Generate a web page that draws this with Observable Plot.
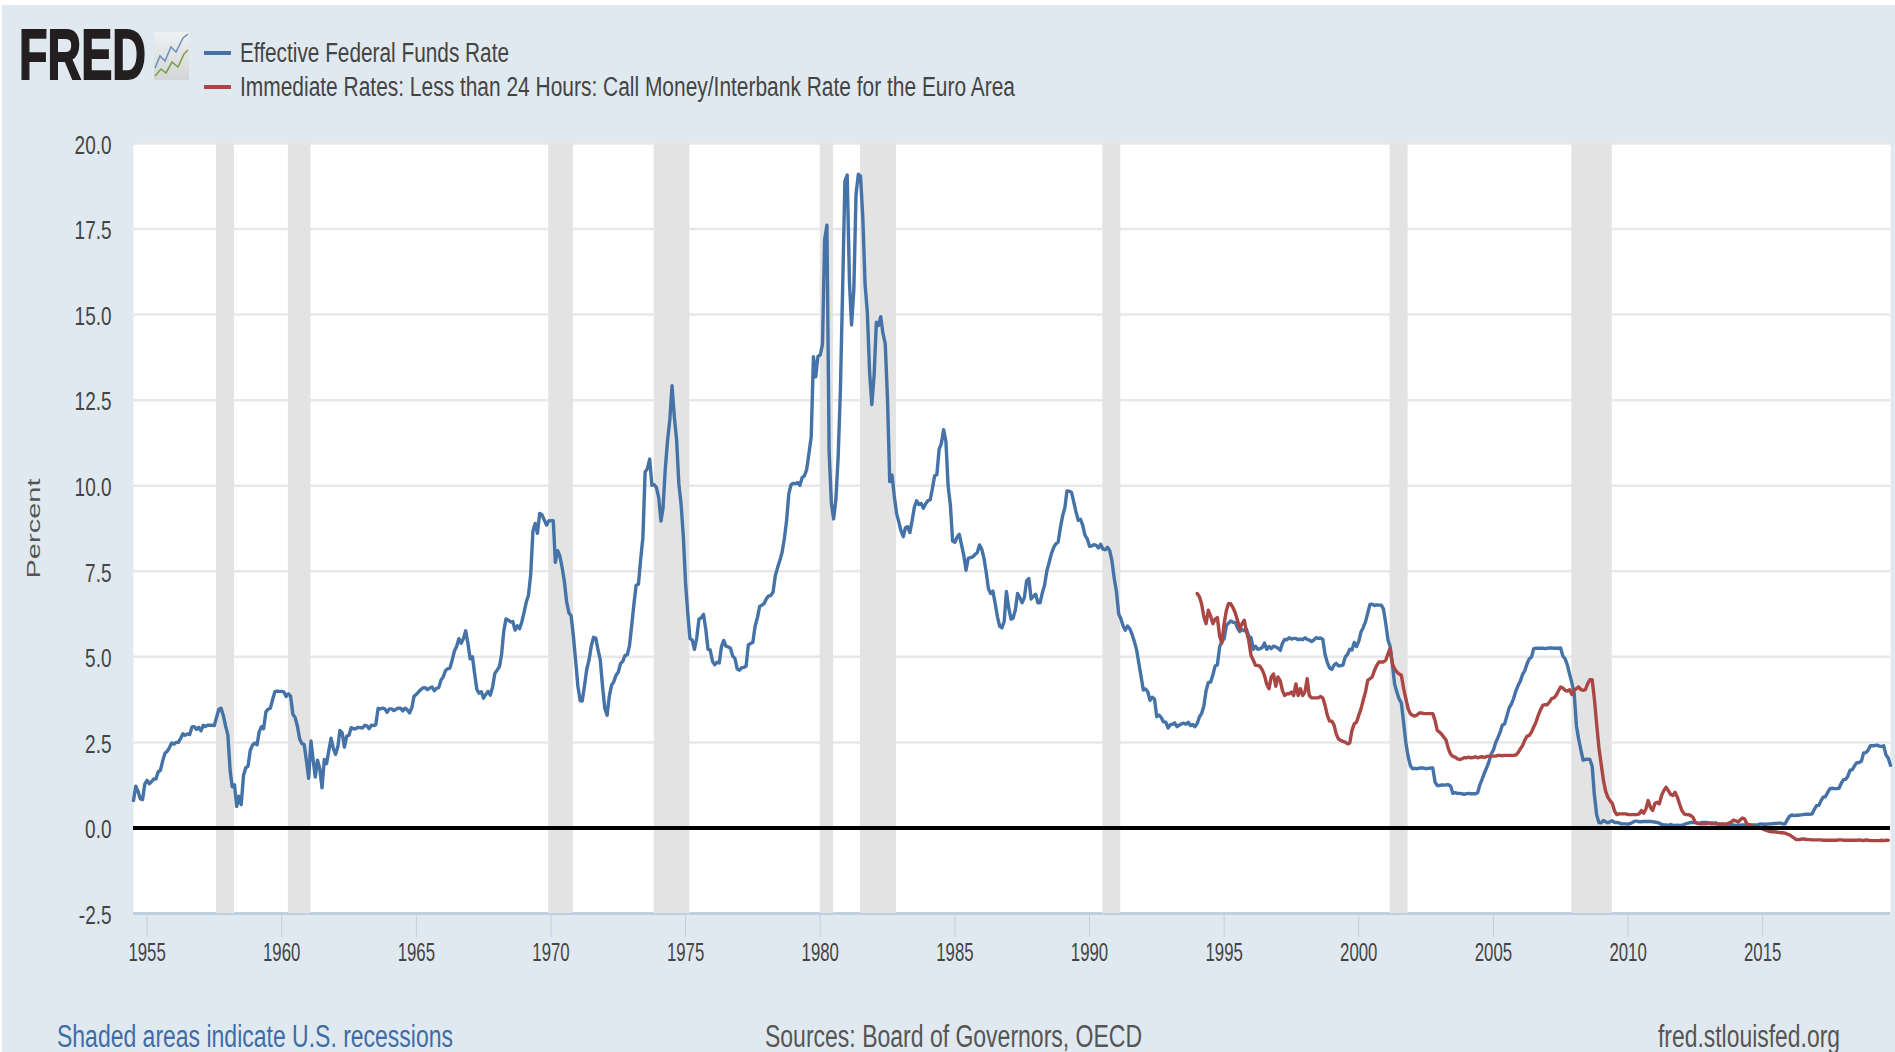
<!DOCTYPE html>
<html>
<head>
<meta charset="utf-8">
<title>FRED: Effective Federal Funds Rate and Euro Area Call Money Rate</title>
<script src="https://cdn.jsdelivr.net/npm/d3@7"></script>
<script src="https://cdn.jsdelivr.net/npm/@observablehq/plot@0.6"></script>
<style>
  html, body { margin: 0; padding: 0; background: #fff; overflow: hidden; }
  #page { position: relative; width: 1895px; height: 1052px; overflow: hidden; background: #fff; font-family: "Liberation Sans", Arial, sans-serif; }
  #panel { position: absolute; left: 2px; top: 5px; right: 0; bottom: 0; background: #e1e9f0; }
  #chart { position: absolute; left: 0; top: 0; }
  #chart svg { display: block; background: transparent; font-family: "Liberation Sans", Arial, sans-serif; }
  .t { position: absolute; white-space: nowrap; transform-origin: left center; line-height: 1; color: #444; }
  .swatch { position: absolute; left: 204px; width: 27px; height: 4px; }
  #icon { position: absolute; left: 154px; top: 32px; }
</style>
</head>
<body>
<div id="page">
  <div id="panel"></div>
  <div id="chart"></div>
  <span class="t" data-w="127" style="left:19px;top:55px;font-size:70px;font-weight:bold;color:#231f20;-webkit-text-stroke:2px #231f20">FRED</span>
  <svg id="icon" width="35" height="48" viewBox="0 0 35 48">
    <defs><linearGradient id="g" x1="0" y1="0" x2="0" y2="1"><stop offset="0" stop-color="#eef1f3"/><stop offset="1" stop-color="#d3d5d6"/></linearGradient></defs>
    <rect width="35" height="48" fill="url(#g)"/>
    <polyline points="1,36 6,24 11,29 17,15 22,20 29,6 34,2" fill="none" stroke="#6f93b8" stroke-width="1.6"/>
    <polyline points="1,44 7,37 12,41 18,30 24,35 30,22 34,18" fill="none" stroke="#7f9f4a" stroke-width="1.6"/>
  </svg>
  <div class="swatch" style="top:51px;background:#4572a7"></div>
  <div class="swatch" style="top:85px;background:#aa4643"></div>
  <span class="t" data-w="269" style="left:240px;top:53px;font-size:27px">Effective Federal Funds Rate</span>
  <span class="t" data-w="775" style="left:240px;top:87px;font-size:27px">Immediate Rates: Less than 24 Hours: Call Money/Interbank Rate for the Euro Area</span>
  <span class="t" data-w="396" style="left:57px;top:1036px;font-size:31px;color:#3f6ca6">Shaded areas indicate U.S. recessions</span>
  <span class="t" data-w="377" style="left:765px;top:1036px;font-size:31px;color:#555">Sources: Board of Governors, OECD</span>
  <span class="t" data-w="182" style="left:1658px;top:1036px;font-size:31px;color:#555">fred.stlouisfed.org</span>
</div>
<script>
// Effective Federal Funds Rate, monthly from July 1954 to October 2019
const fedStart = "1954-07-01";
const fedValues = [
  0.80,1.22,1.07,0.85,0.83,1.28,
  1.39,1.29,1.35,1.43,1.43,1.64,1.68,1.96,2.18,2.24,2.35,2.48,
  2.45,2.50,2.50,2.62,2.75,2.71,2.75,2.73,2.95,2.96,2.88,2.94,
  2.84,3.00,2.96,3.00,3.00,3.00,2.99,3.24,3.47,3.50,3.28,2.98,
  2.72,1.67,1.20,1.26,0.63,0.93,0.68,1.53,1.76,1.80,2.27,2.42,
  2.48,2.43,2.80,2.96,2.90,3.39,3.47,3.50,3.76,3.98,4.00,3.99,
  3.99,3.97,3.84,3.92,3.85,3.32,3.23,2.98,2.60,2.47,2.44,1.98,
  1.45,2.54,2.02,1.49,1.98,1.73,1.17,2.00,1.88,2.26,2.62,2.33,
  2.15,2.37,2.85,2.78,2.36,2.68,2.71,2.93,2.90,2.90,2.94,2.93,
  2.92,3.00,2.98,2.90,3.00,2.99,3.02,3.49,3.48,3.50,3.48,3.38,
  3.48,3.48,3.43,3.47,3.50,3.50,3.42,3.50,3.45,3.36,3.52,3.85,
  3.90,3.98,4.04,4.09,4.10,4.04,4.09,4.12,4.01,4.08,4.10,4.32,
  4.42,4.60,4.65,4.67,4.90,5.17,5.30,5.53,5.40,5.53,5.76,5.40,
  4.94,5.00,4.53,4.05,3.94,3.98,3.79,3.90,3.99,3.88,4.12,4.51,
  4.61,4.71,5.05,5.76,6.11,6.07,6.02,6.03,5.78,5.91,5.82,6.02,
  6.30,6.61,6.79,7.41,8.67,8.90,8.61,9.19,9.15,9.00,8.85,8.97,
  8.98,8.98,7.76,8.10,7.95,7.61,7.21,6.61,6.29,6.20,5.60,4.90,
  4.14,3.72,3.71,4.16,4.63,4.91,5.31,5.57,5.55,5.20,4.91,4.14,
  3.50,3.29,3.83,4.17,4.27,4.46,4.55,4.80,4.87,5.04,5.06,5.33,
  5.94,6.58,7.09,7.12,7.84,8.49,10.40,10.50,10.78,10.01,10.03,9.95,
  9.65,8.97,9.35,10.51,11.31,11.93,12.92,12.01,11.34,10.06,9.45,8.53,
  7.13,6.24,5.54,5.49,5.22,5.55,6.10,6.14,6.24,5.82,5.22,5.20,
  4.87,4.77,4.84,4.82,5.29,5.48,5.31,5.29,5.25,5.02,4.95,4.65,
  4.61,4.68,4.69,4.73,5.35,5.39,5.42,5.90,6.14,6.47,6.51,6.56,
  6.70,6.78,6.79,6.89,7.36,7.60,7.81,8.04,8.45,8.96,9.76,10.03,
  10.07,10.06,10.09,10.01,10.24,10.29,10.47,10.94,11.43,13.77,13.18,13.78,
  13.82,14.13,17.19,17.61,10.98,9.47,9.03,9.61,10.87,12.81,15.85,18.90,
  19.08,15.93,14.70,15.72,18.52,19.10,19.04,17.82,15.87,15.08,13.31,12.37,
  13.22,14.78,14.68,14.94,14.45,14.15,12.59,10.12,10.31,9.71,9.20,8.95,
  8.68,8.51,8.77,8.80,8.63,8.98,9.37,9.56,9.45,9.48,9.34,9.47,
  9.56,9.59,9.91,10.29,10.32,11.06,11.23,11.64,11.30,9.99,9.43,8.38,
  8.35,8.50,8.58,8.27,7.97,7.53,7.88,7.90,7.92,7.99,8.05,8.27,
  8.14,7.86,7.48,6.99,6.85,6.92,6.56,6.17,5.89,5.85,6.04,6.91,
  6.43,6.10,6.13,6.37,6.85,6.73,6.58,6.73,7.22,7.29,6.69,6.77,
  6.83,6.58,6.58,6.87,7.09,7.51,7.75,8.01,8.19,8.30,8.35,8.76,
  9.12,9.36,9.85,9.84,9.81,9.53,9.24,8.99,9.02,8.84,8.55,8.45,
  8.23,8.24,8.28,8.26,8.18,8.29,8.15,8.13,8.20,8.11,7.81,7.31,
  6.91,6.25,6.12,5.91,5.78,5.90,5.82,5.66,5.45,5.21,4.81,4.43,
  4.03,4.06,3.98,3.73,3.82,3.76,3.25,3.30,3.22,3.10,3.09,2.92,
  3.02,3.03,3.07,2.96,3.00,3.04,3.06,3.03,3.09,2.99,3.02,2.96,
  3.05,3.25,3.34,3.56,4.01,4.25,4.26,4.47,4.73,4.76,5.29,5.45,
  5.53,5.92,5.98,6.05,6.01,6.00,5.85,5.74,5.80,5.76,5.80,5.60,
  5.56,5.22,5.31,5.22,5.24,5.27,5.40,5.22,5.30,5.24,5.31,5.29,
  5.25,5.19,5.39,5.51,5.50,5.56,5.52,5.54,5.54,5.50,5.52,5.50,
  5.56,5.51,5.49,5.45,5.49,5.56,5.54,5.55,5.51,5.07,4.83,4.68,
  4.63,4.76,4.81,4.74,4.74,4.76,4.99,5.07,5.22,5.20,5.42,5.30,
  5.45,5.73,5.85,6.02,6.27,6.53,6.54,6.50,6.52,6.51,6.51,6.40,
  5.98,5.49,5.31,4.80,4.21,3.97,3.77,3.65,3.07,2.49,2.09,1.82,
  1.73,1.74,1.73,1.75,1.75,1.75,1.73,1.74,1.75,1.75,1.34,1.24,
  1.24,1.26,1.25,1.26,1.26,1.22,1.01,1.03,1.01,1.01,1.00,0.98,
  1.00,1.01,1.00,1.00,1.00,1.03,1.26,1.43,1.61,1.76,1.93,2.16,
  2.28,2.50,2.63,2.79,3.00,3.04,3.26,3.50,3.62,3.78,4.00,4.16,
  4.29,4.49,4.59,4.79,4.94,4.99,5.24,5.25,5.25,5.25,5.25,5.24,
  5.25,5.26,5.26,5.25,5.25,5.25,5.26,5.02,4.94,4.76,4.49,4.24,
  3.94,2.98,2.61,2.28,1.98,2.00,2.01,2.00,1.81,0.97,0.39,0.16,
  0.15,0.22,0.18,0.15,0.18,0.21,0.16,0.16,0.15,0.12,0.12,0.12,
  0.11,0.13,0.16,0.20,0.20,0.18,0.18,0.19,0.19,0.19,0.19,0.18,
  0.17,0.16,0.14,0.10,0.09,0.09,0.07,0.10,0.08,0.07,0.08,0.07,
  0.08,0.10,0.13,0.14,0.16,0.16,0.16,0.13,0.14,0.16,0.16,0.16,
  0.14,0.15,0.14,0.15,0.11,0.09,0.09,0.08,0.08,0.09,0.08,0.09,
  0.07,0.07,0.08,0.09,0.09,0.10,0.09,0.09,0.09,0.09,0.09,0.12,
  0.11,0.11,0.11,0.12,0.12,0.13,0.13,0.14,0.14,0.12,0.12,0.24,
  0.34,0.38,0.36,0.37,0.37,0.38,0.39,0.40,0.40,0.40,0.41,0.54,
  0.65,0.66,0.79,0.90,0.91,1.04,1.15,1.16,1.15,1.15,1.16,1.30,
  1.41,1.42,1.51,1.69,1.70,1.82,1.91,1.91,1.95,2.19,2.20,2.27,
  2.40,2.40,2.41,2.42,2.39,2.38,2.40,2.13,2.04,1.83
];

// Call money / interbank rate for the euro area, monthly from January 1994
const euroStart = "1994-01-01";
const euroValues = [
  6.85,6.75,6.55,6.17,5.97,6.36,6.20,5.97,6.10,6.15,5.60,5.40,
  5.97,6.36,6.55,6.55,6.44,6.28,6.07,5.82,5.97,6.07,5.73,5.48,
  5.04,4.90,4.75,4.75,4.72,4.62,4.46,4.20,4.07,4.41,4.50,4.14,
  4.41,4.30,4.02,3.87,3.92,3.92,3.97,3.87,4.21,3.87,4.07,3.87,
  3.97,4.36,3.87,3.80,3.80,3.80,3.80,3.84,3.80,3.58,3.29,3.12,
  3.12,3.00,2.75,2.60,2.56,2.53,2.51,2.46,2.48,2.85,3.04,3.09,
  3.29,3.48,3.73,3.97,4.31,4.36,4.41,4.60,4.75,4.85,4.85,4.85,
  4.90,5.09,5.24,4.80,4.65,4.56,4.50,4.46,4.07,3.78,3.48,3.34,
  3.29,3.27,3.30,3.36,3.36,3.34,3.34,3.34,3.34,3.34,3.14,2.85,
  2.80,2.73,2.65,2.56,2.31,2.15,2.09,2.07,2.02,2.00,2.02,2.05,
  2.05,2.07,2.05,2.06,2.08,2.05,2.07,2.08,2.06,2.09,2.10,2.10,
  2.10,2.10,2.12,2.12,2.11,2.12,2.12,2.12,2.12,2.12,2.13,2.20,
  2.31,2.41,2.56,2.68,2.70,2.80,2.95,3.09,3.29,3.45,3.58,3.60,
  3.60,3.68,3.78,3.80,3.87,4.00,4.12,4.09,4.02,4.00,4.04,3.90,
  4.02,4.07,4.12,4.04,4.02,4.04,4.21,4.33,4.33,3.78,3.04,2.36,
  1.87,1.39,1.09,0.90,0.80,0.72,0.50,0.39,0.41,0.41,0.41,0.41,
  0.39,0.39,0.39,0.39,0.39,0.41,0.51,0.43,0.56,0.80,0.60,0.51,
  0.72,0.75,0.70,0.95,1.09,1.19,1.09,0.98,0.95,1.04,0.90,0.70,
  0.51,0.41,0.39,0.39,0.36,0.31,0.16,0.14,0.12,0.12,0.12,0.12,
  0.14,0.12,0.12,0.12,0.12,0.12,0.12,0.12,0.12,0.14,0.17,0.23,
  0.21,0.17,0.23,0.29,0.26,0.12,0.10,0.07,0.04,0.04,0.02,0.00,
  -0.03,-0.06,-0.08,-0.10,-0.11,-0.11,-0.12,-0.13,-0.14,-0.14,-0.15,-0.18,
  -0.20,-0.25,-0.29,-0.34,-0.34,-0.33,-0.32,-0.33,-0.34,-0.34,-0.35,-0.35,
  -0.35,-0.35,-0.35,-0.36,-0.36,-0.36,-0.36,-0.36,-0.36,-0.36,-0.35,-0.35,
  -0.36,-0.36,-0.36,-0.36,-0.36,-0.36,-0.36,-0.35,-0.36,-0.37,-0.35,-0.36,
  -0.37,-0.37,-0.37,-0.37,-0.37,-0.36,-0.37,-0.36,-0.36
];

// U.S. recessions (start, end)
const recessionStarts = ["1957-08-01","1960-04-01","1969-12-01","1973-11-01","1980-01-01","1981-07-01","1990-07-01","2001-03-01","2007-12-01"];
const recessionEnds   = ["1958-04-01","1961-02-01","1970-11-01","1975-03-01","1980-07-01","1982-11-01","1991-03-01","2001-11-01","2009-06-01"];

const yTicks = [-2.5,0,2.5,5,7.5,10,12.5,15,17.5,20];
const xTickYears = [1955,1960,1965,1970,1975,1980,1985,1990,1995,2000,2005,2010,2015];

const parse = d3.utcParse("%Y-%m-%d");
const series = (start, vals) => vals.map((v, i) => ({date: d3.utcMonth.offset(parse(start), i), value: v}));
const fed = series(fedStart, fedValues);
const euro = series(euroStart, euroValues);
const recessions = recessionStarts.map((s, i) => ({start: parse(s), end: parse(recessionEnds[i])}));
const xTicks = xTickYears.map(y => new Date(Date.UTC(y, 0, 1)));

const plot = Plot.plot({
  width: 1895,
  height: 1052,
  marginLeft: 133,
  marginRight: 5,
  marginTop: 143,
  marginBottom: 139,
  style: {background: "transparent", overflow: "visible"},
  x: {type: "utc", domain: [parse(fedStart), fed[fed.length - 1].date]},
  y: {domain: [-2.5, 20]},
  marks: [
    Plot.frame({fill: "#fff", stroke: null}),
    Plot.ruleY(yTicks.slice(2), {stroke: "#e8e8e8", strokeWidth: 2.5}),
    Plot.ruleY([-2.5], {stroke: "#c0d0e0", strokeWidth: 3}),
    Plot.rectY(recessions, {x1: "start", x2: "end", y1: -2.5, y2: 20, fill: "#e3e3e3"}),
    Plot.axisX({
      ticks: xTicks, tickFormat: d => String(d.getUTCFullYear()),
      tickSize: 24, tickPadding: 6, fontSize: 25, stroke: "#c0d0e0", fill: "#444", label: null
    }),
    Plot.axisY({
      ticks: yTicks, tickFormat: d => d.toFixed(1), tickSize: 0, tickPadding: 22, dy: 2,
      fontSize: 26, fill: "#444", label: "Percent", labelAnchor: "center", labelArrow: "none", labelOffset: 107
    }),
    Plot.line(fed, {x: "date", y: "value", stroke: "#4572a7", strokeWidth: 3.4, strokeLinejoin: "round"}),
    Plot.line(euro, {x: "date", y: "value", stroke: "#aa4643", strokeWidth: 3.4, strokeLinejoin: "round"}),
    Plot.ruleY([0], {stroke: "#000", strokeWidth: 4})
  ]
});
document.getElementById("chart").appendChild(plot);

// The reference's text is drawn horizontally squeezed: fit each label to its measured width.
d3.select(plot).selectAll("text").each(function () {
  const txt = this.textContent.trim();
  if (txt === "Percent") {
    this.setAttribute("font-size", "19");
    this.style.fontSize = "19px";
    this.setAttribute("fill", "#555");
    this.setAttribute("textLength", 100);
  } else {
    const w = this.getComputedTextLength();
    this.setAttribute("textLength", (w * (txt.length === 4 && txt[1] !== "." && txt[2] !== "." ? 0.67 : 0.73)).toFixed(1));
  }
  this.setAttribute("lengthAdjust", "spacingAndGlyphs");
});

document.querySelectorAll(".t").forEach(el => {
  const target = +el.dataset.w;
  const w = el.getBoundingClientRect().width;
  el.style.transform = `translateY(-50%) scaleX(${target / w})`;
});
</script>
</body>
</html>
